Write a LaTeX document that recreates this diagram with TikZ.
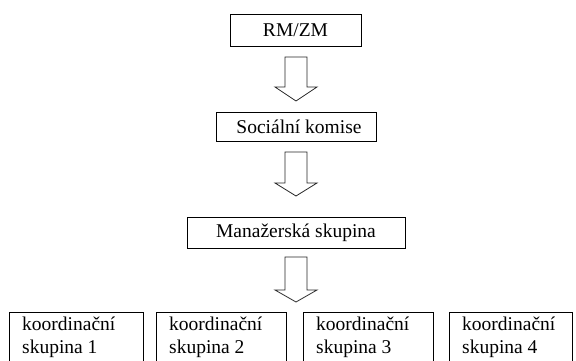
\documentclass[tikz,border=0pt]{standalone}
\usepackage{fontspec}
\setmainfont{Liberation Serif}
\newcommand\blockdown[4]{% x, ytop, yhead, ytip
  \draw[blockarrow] ({#1-11},#2) -- ({#1+11},#2) -- ({#1+11},#3) -- ({#1+21},#3)
    -- (#1,#4) -- ({#1-21},#3) -- ({#1-11},#3) -- cycle;}
\begin{document}
\begin{tikzpicture}[x=1pt,y=-1pt,
  box/.style={draw=black,line width=0.9pt,inner sep=0pt,
    font=\fontsize{19.5}{19.5}\selectfont},
  grp/.style={font=\fontsize{19.5}{22.5}\selectfont,align=left,anchor=north west,inner sep=0pt},
  blockarrow/.style={draw=black!85,line width=0.8pt,line join=miter,fill=white}]
\useasboundingbox (0,0) rectangle (576,361);
\clip (0,0) rectangle (576,361);
\node[box,minimum width=131pt,minimum height=32pt] (rm) at (295.5,30) {RM/ZM};
\node[box,minimum width=160pt,minimum height=29pt] (sk) at (296,126.5) {\hspace{6pt}Sociální komise};
\node[box,minimum width=218pt,minimum height=31pt] (ms) at (296,232.5) {Manažerská skupina};
\blockdown{296}{57}{87}{101}
\blockdown{296}{152}{183}{196}
\blockdown{296}{257}{290}{302}
\draw[box] (9,312) rectangle (143,390);
\draw[box] (156,312) rectangle (286,390);
\draw[box] (303,312) rectangle (433,390);
\draw[box] (449,312) rectangle (572,390);
\node[grp] (k1) at (22,317) {koordinační\\skupina 1};
\node[grp] (k2) at (169,317) {koordinační\\skupina 2};
\node[grp] (k3) at (316,317) {koordinační\\skupina 3};
\node[grp] (k4) at (462,317) {koordinační\\skupina 4};
\end{tikzpicture}
\end{document}
